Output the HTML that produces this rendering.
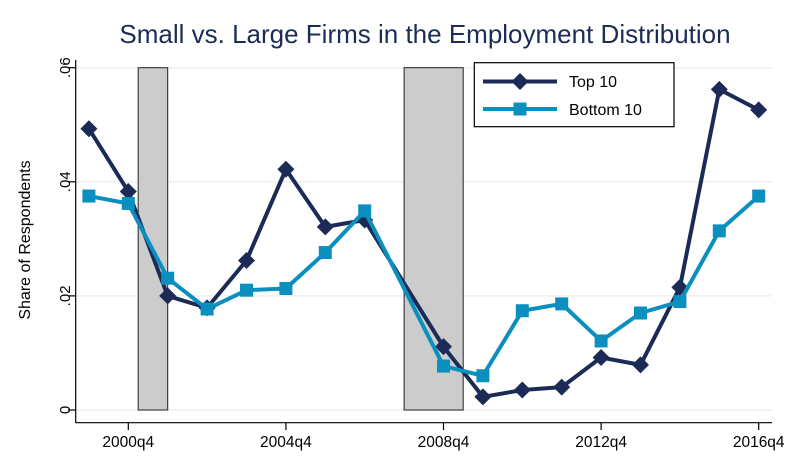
<!DOCTYPE html>
<html><head><meta charset="utf-8"><style>
body{margin:0;background:#fff;}
svg{display:block;font-family:"Liberation Sans",sans-serif;}
</style></head><body>
<svg id="chart" width="793" height="458">
<text x="425" y="43" text-anchor="middle" font-size="26" fill="#1d2b57">Small vs. Large Firms in the Employment Distribution</text>
<text transform="translate(30,240) rotate(-90)" text-anchor="middle" font-size="16" fill="#000">Share of Respondents</text>
</svg>
<script>
const years = [1999,2000,2001,2002,2003,2004,2005,2006,2008,2009,2010,2011,2012,2013,2014,2015,2016];
const top10 = [0.0493,0.0383,0.0200,0.0179,0.0262,0.0422,0.0321,0.0333,0.0111,0.0023,0.0035,0.0040,0.0092,0.0079,0.0215,0.0562,0.0526];
const bottom10 = [0.0375,0.0362,0.0231,0.0177,0.0210,0.0213,0.0276,0.0349,0.0077,0.0060,0.0174,0.0186,0.0121,0.0170,0.0190,0.0314,0.0375];
const yTicks = [0,0.02,0.04,0.06];
const yTickLabels = ["0",".02",".04",".06"];
const xTicks = [2000,2004,2008,2012,2016];
const xTickLabels = ["2000q4","2004q4","2008q4","2012q4","2016q4"];
const recessions = [[2000.25,2001.0],[2007.0,2008.5]];

const NS="http://www.w3.org/2000/svg";
const svg=document.getElementById('chart');
function X(yr){return 128.3+(yr-2000)*39.4;}
function Y(v){return 410-v/0.02*114.1;}
function el(tag,attrs,parent){const e=document.createElementNS(NS,tag);for(const k in attrs)e.setAttribute(k,attrs[k]);(parent||svg).appendChild(e);return e;}

yTicks.forEach((t,i)=>{
  const g=el('line',{x1:76,x2:771,y1:Y(t),y2:Y(t),stroke:'#eaf0f5','stroke-width':1.5});
  
  
});
recessions.forEach(r=>{
  const b=el('rect',{x:X(r[0]),y:Y(0.06),width:X(r[1])-X(r[0]),height:Y(0)-Y(0.06),fill:'#cccccc',stroke:'#222','stroke-width':1});
  
  
});
const ya=el('line',{x1:75.7,x2:75.7,y1:60,y2:423,stroke:'#000','stroke-width':1.2});


const xa=el('line',{x1:75.7,x2:772,y1:422.7,y2:422.7,stroke:'#000','stroke-width':1.2});


yTicks.forEach((t,i)=>{
  el('line',{x1:68,x2:75.7,y1:Y(t),y2:Y(t),stroke:'#000','stroke-width':1.2});
  const tx=el('text',{transform:`translate(70,${Y(t)}) rotate(-90)`,'text-anchor':'middle','font-size':15,fill:'#000'});
  tx.textContent=yTickLabels[i];
  
  
});
xTicks.forEach((t,i)=>{
  el('line',{x1:X(t),x2:X(t),y1:422.7,y2:430,stroke:'#000','stroke-width':1.2});
  const tx=el('text',{x:X(t),y:447,'text-anchor':'middle','font-size':15.5,fill:'#000'});
  tx.textContent=xTickLabels[i];
  
  
});
function diamond(cx,cy,s,c,parent){return el('polygon',{points:`${cx},${cy-s} ${cx+s},${cy} ${cx},${cy+s} ${cx-s},${cy}`,fill:c},parent);}
function square(cx,cy,s,c,parent){return el('rect',{x:cx-s,y:cy-s,width:2*s,height:2*s,fill:c},parent);}
function series(vals,color,shape,name){
  const p=el('polyline',{points:vals.map((v,i)=>X(years[i])+','+Y(v)).join(' '),fill:'none',stroke:color,'stroke-width':4,'stroke-linejoin':'round'});
  
  
  vals.forEach((v,i)=>{
    const m=shape==='d'?diamond(X(years[i]),Y(v),8.5,color):square(X(years[i]),Y(v),6.5,color);
    
    
  });
}
series(top10,'#1c2a56','d','top10');
series(bottom10,'#0b8fbe','s','bottom10');
const lg=el('g',{});


el('rect',{x:474.3,y:62.7,width:199.7,height:64,fill:'#fff',stroke:'#000','stroke-width':1.2},lg);
el('line',{x1:483,x2:557,y1:81.5,y2:81.5,stroke:'#1c2a56','stroke-width':4},lg);
diamond(520,81.5,8.5,'#1c2a56',lg);
el('line',{x1:483,x2:557,y1:109,y2:109,stroke:'#0b8fbe','stroke-width':4},lg);
square(520,109,6.5,'#0b8fbe',lg);
const t1=el('text',{x:569,y:87,'font-size':16,fill:'#000'},lg);t1.textContent='Top 10';


const t2=el('text',{x:569,y:115,'font-size':16,fill:'#000'},lg);t2.textContent='Bottom 10';


</script>
</body></html>
